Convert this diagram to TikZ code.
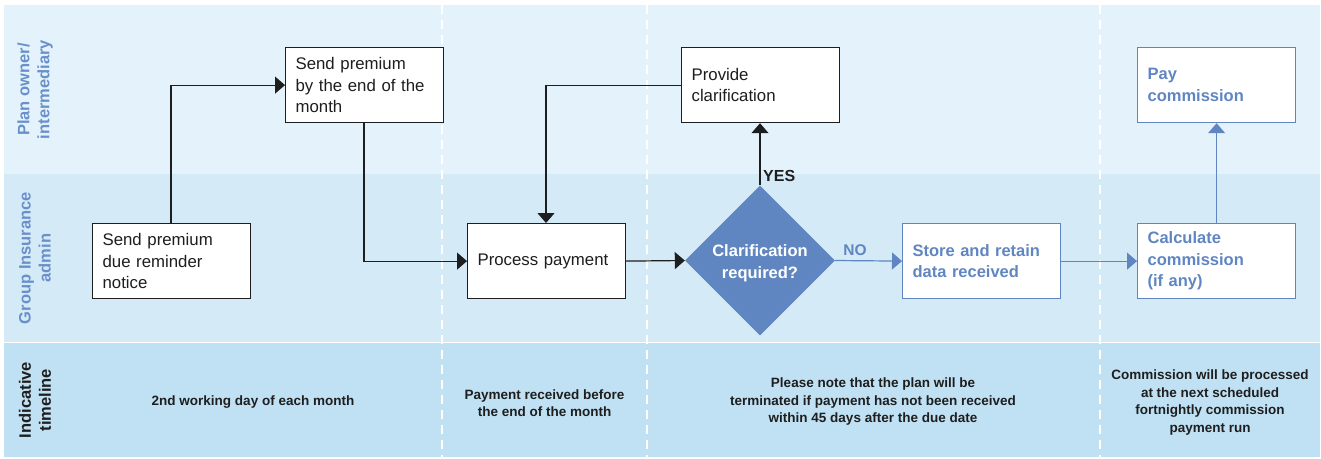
\documentclass[tikz,border=0pt]{standalone}
\usepackage{fontspec}
\setmainfont{Liberation Sans}
\usetikzlibrary{arrows.meta,shapes.geometric}
\definecolor{laneA}{HTML}{E4F3FB}
\definecolor{laneB}{HTML}{D4EAF7}
\definecolor{laneC}{HTML}{C0E1F4}
\definecolor{accent}{HTML}{6086C2}
\definecolor{lbl}{HTML}{6A90CC}
\definecolor{ink}{HTML}{1E1E1E}
\begin{document}
\begin{tikzpicture}[x=1pt,y=-1pt,
  box/.style={draw=ink, line width=1.2pt, fill=white, minimum width=158pt, minimum height=75pt,
    text width=138pt, inner xsep=10pt, inner ysep=0pt, align=left, anchor=north west,
    font=\fontsize{16.8}{21.5}\selectfont, text=ink},
  bluebox/.style={box, draw=accent, text=accent, font=\fontsize{16.5}{21.5}\selectfont\bfseries},
  decision/.style={diamond, fill=accent, minimum width=150pt, minimum height=150pt, inner sep=0pt,
    align=center, text=white, font=\fontsize{16.5}{21.5}\selectfont\bfseries},
  lanelabel/.style={rotate=90, align=center, text=lbl, font=\fontsize{16.5}{20}\selectfont\bfseries},
  timetext/.style={align=center, text=ink, font=\fontsize{13.5}{17.5}\selectfont\bfseries},
  arr/.style={draw=ink, line width=1.2pt, -{Triangle[length=10pt,width=17pt]}},
  bluearr/.style={draw=accent, line width=1.2pt, -{Triangle[length=10pt,width=17pt]}},
  divider/.style={draw=white, line width=2pt, dash pattern=on 9pt off 6pt}
]
\useasboundingbox (0,0) rectangle (1321,458);
\fill[white] (0,0) rectangle (1321,458);
% lanes
\fill[laneA] (4,5) rectangle (1320,174);
\fill[laneB] (4,174) rectangle (1320,342);
\fill[laneC] (4,343) rectangle (1320,457);
\draw[white, line width=1.5pt] (4,342.5) -- (1320,342.5);
% column dividers
\draw[divider] (442,5) -- (442,457);
\draw[divider] (646.5,5) -- (646.5,457);
\draw[divider] (1100,5) -- (1100,457);
% lane labels
\node[lanelabel] (l1) at (35,89.5) {Plan owner/\\intermediary};
\node[lanelabel] (l2) at (35,258) {Group Insurance\\admin};
\node[lanelabel, text=ink] (l3) at (35,400) {Indicative\\timeline};
% boxes
\node[box] (remind) at (92,223) {Send premium\\due reminder\\notice};
\node[box] (send) at (285,47) {Send premium\\by the end of the\\month};
\node[box] (proc) at (467,223) {\raisebox{-2pt}{Process payment}};
\node[box] (clar) at (681,47) {Provide\\clarification};
\node[decision] (dec) at (760,260.5) {\raisebox{-2.5pt}[\height][\depth]{\begin{tabular}{@{}c@{}}Clarification\\required?\end{tabular}}};
\node[bluebox] (store) at (902,223) {Store and retain\\data received};
\node[bluebox] (calc) at (1137,223) {Calculate\\commission\\(if any)};
\node[bluebox] (pay) at (1137,47) {Pay\\commission};
% connectors
\draw[arr] (remind.north -| 171,0) |- (send.west);
\draw[arr] (send.south -| 364,0) |- (proc.west);
\draw[arr] (clar.west) -| (proc.north -| 546,0);
\draw[arr] (proc.east) -- (dec.west);
\draw[arr] (dec.north) -- (clar.south -| dec.north);
\draw[bluearr] (dec.east) -- (store.west);
\draw[bluearr] (store.east) -- (calc.west);
\draw[bluearr] (calc.north) -- (pay.south);
% labels
\node[anchor=west, inner sep=0pt, text=ink, font=\fontsize{16}{20}\selectfont\bfseries] (yes) at (763,176) {YES};
\node[inner sep=0pt, text=accent, font=\fontsize{15.5}{20}\selectfont\bfseries] (no) at (855,250) {NO};
% timeline texts
\node[timetext] (t1) at (253,402) {2nd working day of each month};
\node[timetext] (t2) at (544.5,403) {Payment received before\\the end of the month};
\node[timetext] (t3) at (873,402) {Please note that the plan will be\\terminated if payment has not been received\\within 45 days after the due date};
\node[timetext] (t4) at (1210,402.5) {Commission will be processed\\at the next scheduled\\fortnightly commission\\payment run};
\end{tikzpicture}
\end{document}
